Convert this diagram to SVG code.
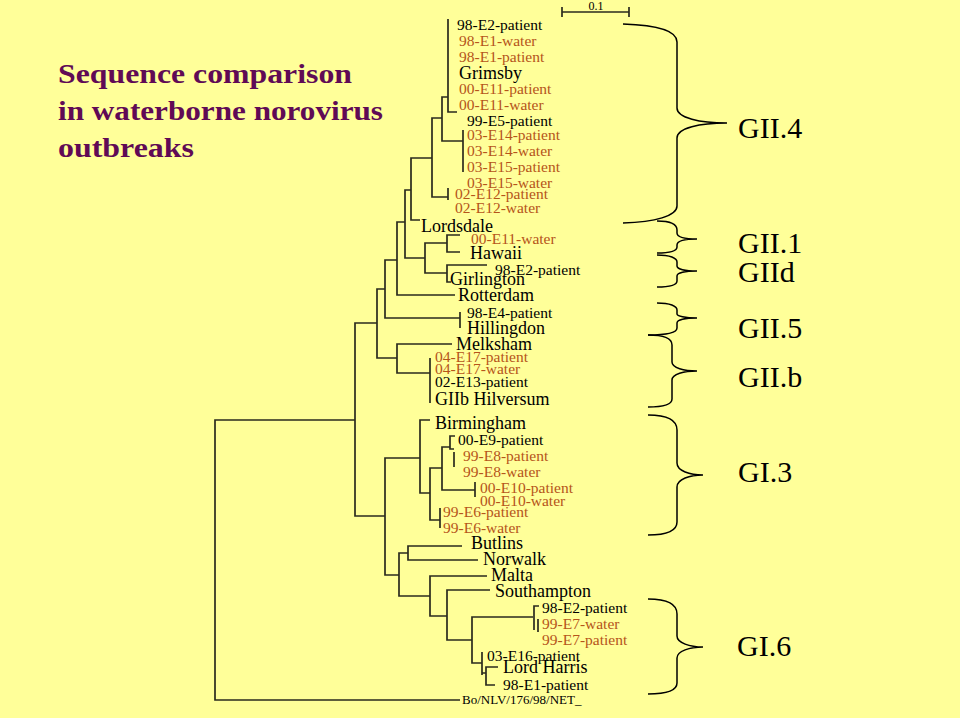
<svg xmlns="http://www.w3.org/2000/svg" width="960" height="718" viewBox="0 0 960 718">
<style>
.t{font-family:'Liberation Serif','Times New Roman',serif;}
.s{font-size:15.5px}
.l{font-size:18px}
.k{fill:#000}
.b{fill:#B5541A}
.g{font-size:30px;fill:#000}
.tree{fill:none;stroke:#2b2b1e;stroke-width:1.7}
.br{fill:none;stroke:#000;stroke-width:1.5}
.title{font-family:'Liberation Serif','Times New Roman',serif;font-weight:bold;font-size:28px;fill:#600A55}
</style>
<rect width="960" height="718" fill="#FFFF99"/>
<g id="title">
<text class="title" x="58" y="83" textLength="294" lengthAdjust="spacingAndGlyphs">Sequence comparison</text>
<text class="title" x="58" y="120" textLength="325" lengthAdjust="spacingAndGlyphs">in waterborne norovirus</text>
<text class="title" x="58" y="157" textLength="136" lengthAdjust="spacingAndGlyphs">outbreaks</text>
</g>
<g id="scalebar">
<path class="tree" d="M562,12 H629 M562,7 V17 M629,7 V17" stroke-width="1.4"/>
<text class="t" x="596" y="10" font-size="12" text-anchor="middle">0.1</text>
</g>
<g id="connectors" class="tree">
<path d="M448,19 V112 H457"/>
<path d="M448,97 H442 V141 H463"/>
<path d="M463,130 V172"/>
<path d="M442,118 H432 V197 H448"/>
<path d="M448,188 V200"/>
<path d="M432,158 H411 V220 H420"/>
<path d="M411,190 H405 V258 H425"/>
<path d="M447,243 H425 V273 H447"/>
<path d="M460,235 H447 V252 H460"/>
<path d="M487,265 H447 V282 H451"/>
<path d="M405,222 H397 V295 H455"/>
<path d="M397,260 H385 V318 H460"/>
<path d="M460,312 V328"/>
<path d="M385,289 H377 V358 H397"/>
<path d="M452,344 H397 V373 H430"/>
<path d="M430,358 V403"/>
<path d="M377,323 H355 V516 H385"/>
<path d="M355,420 H215 V700 H460"/>
<path d="M420,458 H385 V575 H399"/>
<path d="M430,420 H420 V493 H430"/>
<path d="M442,468 H430 V520 H440"/>
<path d="M450,447 H442 V490 H475"/>
<path d="M455,436 H450 V449 H454 M454,452 V467"/>
<path d="M475,482 V497"/>
<path d="M440,508 V528"/>
<path d="M408,553 H399 V596 H430"/>
<path d="M462,546 H408 V560 H478"/>
<path d="M487,576 H430 V616 H447"/>
<path d="M490,590 H447 V640 H472"/>
<path d="M533,617 H472 V663 H482"/>
<path d="M539,606 H534 V630 M538,619 V632"/>
<path d="M482,652 V675 M482,673 H486"/>
<path d="M498,667 H486 V685 H495"/>
</g>
<g id="leaves" class="t s">
<g id="n1"><text class="k" x="457" y="30">98-E2-patient</text></g>
<g id="n2"><text class="b" x="459" y="46">98-E1-water</text></g>
<g id="n3"><text class="b" x="459" y="62">98-E1-patient</text></g>
<g id="n4"><text class="k l" x="459" y="79">Grimsby</text></g>
<g id="n5"><text class="b" x="459" y="94">00-E11-patient</text></g>
<g id="n6"><text class="b" x="459" y="110">00-E11-water</text></g>
<g id="n7"><text class="k" x="467" y="126">99-E5-patient</text></g>
<g id="n8"><text class="b" x="467" y="140">03-E14-patient</text></g>
<g id="n9"><text class="b" x="467" y="156">03-E14-water</text></g>
<g id="n10"><text class="b" x="467" y="172">03-E15-patient</text></g>
<g id="n11"><text class="b" x="467" y="188">03-E15-water</text></g>
<g id="n12"><text class="b" x="455" y="199">02-E12-patient</text></g>
<g id="n13"><text class="b" x="455" y="213">02-E12-water</text></g>
<g id="n14"><text class="k l" x="421" y="232">Lordsdale</text></g>
<g id="n15"><text class="b" x="471" y="244">00-E11-water</text></g>
<g id="n16"><text class="k l" x="470" y="259">Hawaii</text></g>
<g id="n17"><text class="k" x="495" y="275">98-E2-patient</text></g>
<g id="n18"><text class="k l" x="450" y="285">Girlington</text></g>
<g id="n19"><text class="k l" x="458" y="301">Rotterdam</text></g>
<g id="n20"><text class="k" x="467" y="318">98-E4-patient</text></g>
<g id="n21"><text class="k l" x="467" y="334">Hillingdon</text></g>
<g id="n22"><text class="k l" x="456" y="350">Melksham</text></g>
<g id="n23"><text class="b" x="435" y="362">04-E17-patient</text></g>
<g id="n24"><text class="b" x="435" y="374">04-E17-water</text></g>
<g id="n25"><text class="k" x="435" y="387">02-E13-patient</text></g>
<g id="n26"><text class="k l" x="435" y="405">GIIb Hilversum</text></g>
<g id="n27"><text class="k l" x="435" y="429">Birmingham</text></g>
<g id="n28"><text class="k" x="458" y="445">00-E9-patient</text></g>
<g id="n29"><text class="b" x="463" y="461">99-E8-patient</text></g>
<g id="n30"><text class="b" x="463" y="477">99-E8-water</text></g>
<g id="n31"><text class="b" x="480" y="493">00-E10-patient</text></g>
<g id="n32"><text class="b" x="480" y="506">00-E10-water</text></g>
<g id="n33"><text class="b" x="443" y="517">99-E6-patient</text></g>
<g id="n34"><text class="b" x="443" y="533">99-E6-water</text></g>
<g id="n35"><text class="k l" x="471" y="549">Butlins</text></g>
<g id="n36"><text class="k l" x="483" y="565">Norwalk</text></g>
<g id="n37"><text class="k l" x="491" y="581">Malta</text></g>
<g id="n38"><text class="k l" x="495" y="597">Southampton</text></g>
<g id="n39"><text class="k" x="542" y="613">98-E2-patient</text></g>
<g id="n40"><text class="b" x="542" y="629">99-E7-water</text></g>
<g id="n41"><text class="b" x="542" y="645">99-E7-patient</text></g>
<g id="n42"><text class="k" x="487" y="661">03-E16-patient</text></g>
<g id="n43"><text class="k l" x="503" y="673">Lord Harris</text></g>
<g id="n44"><text class="k" x="503" y="690">98-E1-patient</text></g>
<g id="n45"><text class="k" x="462" y="704" font-size="13">Bo/NLV/176/98/NET_</text></g>
</g>
<g id="braces">
<g id="GII4"><path class="br" d="M623,24 C655,25 677,30 677,42 V108 C677,118 700,123 727,123 C700,123 677,128 677,138 V206 C677,216 655,222 623,223"/><text class="t g" x="738" y="138">GII.4</text></g>
<g id="GII1"><path class="br" d="M657,221 C670,221 677,224 677,230 V233 C677,237 685,239 697,239 C685,239 677,241 677,245 V247 C677,251 670,253 657,253"/><text class="t g" x="738" y="253">GII.1</text></g>
<g id="GIId"><path class="br" d="M657,255 C670,255 677,258 677,262 V266 C677,269 685,271 697,271 C685,271 677,273 677,276 V281 C677,285 670,287 657,287"/><text class="t g" x="738" y="282">GIId</text></g>
<g id="GII5"><path class="br" d="M657,303 C670,303 677,306 677,310 V314 C677,316 685,318 697,318 C685,318 677,320 677,323 V328 C677,333 665,335 648,335"/><text class="t g" x="738" y="338">GII.5</text></g>
<g id="GIIb"><path class="br" d="M648,335 C662,335 672,338 672,345 V362 C672,368 684,371 697,371 C684,371 672,374 672,380 V399 C672,405 662,407 648,407"/><text class="t g" x="738" y="387">GII.b</text></g>
<g id="GI3"><path class="br" d="M648,415 C668,415 677,420 677,430 V463 C677,471 690,475 703,475 C690,475 677,479 677,487 V522 C677,531 668,535 648,535"/><text class="t g" x="738" y="482">GI.3</text></g>
<g id="GI6"><path class="br" d="M648,599 C668,599 677,604 677,614 V636 C677,643 690,647 703,647 C690,647 677,651 677,658 V683 C677,690 668,694 648,694"/><text class="t g" x="737" y="656">GI.6</text></g>
</g>
</svg>
